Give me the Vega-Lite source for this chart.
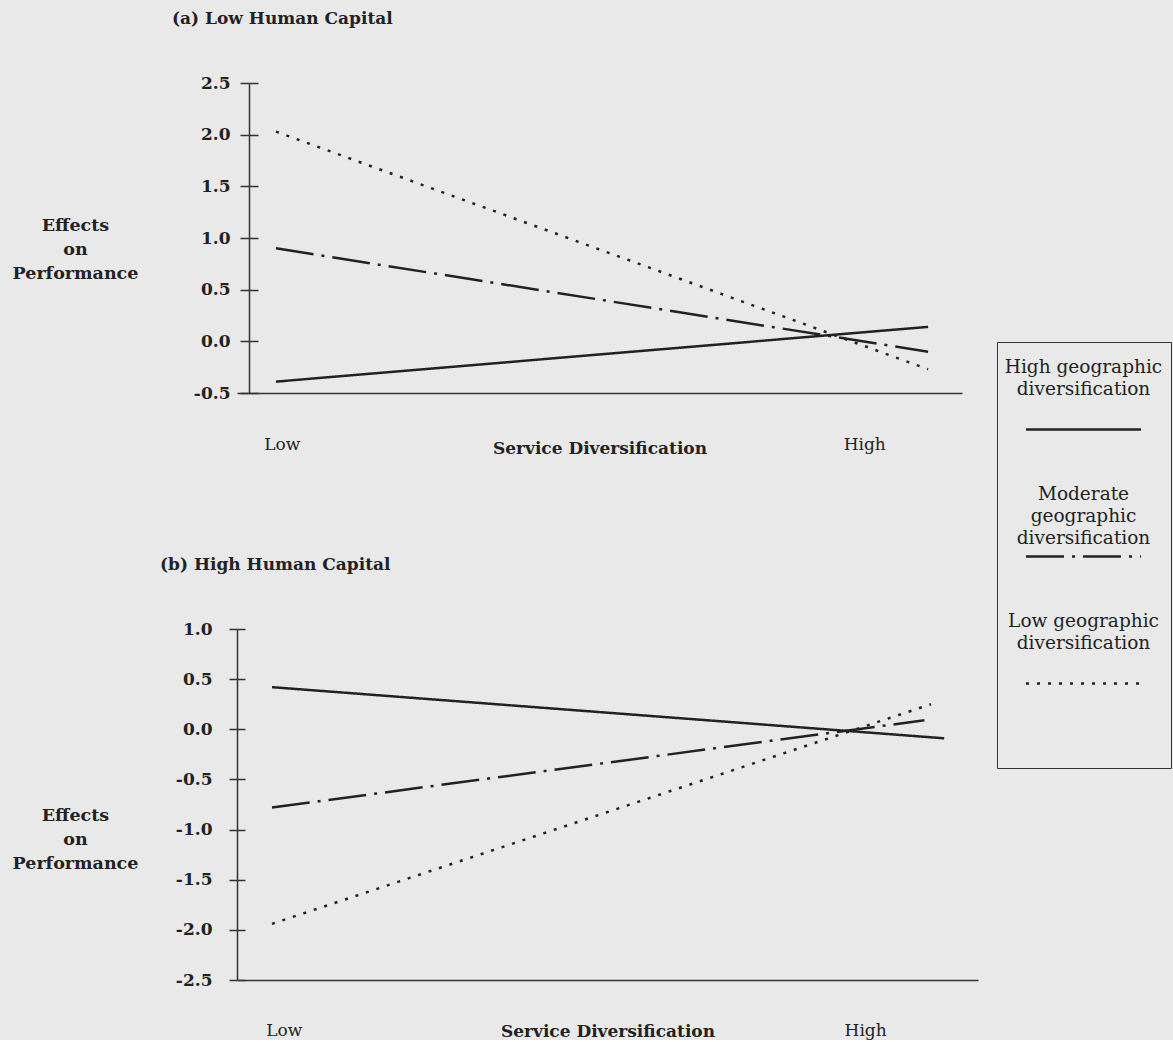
{
  "$schema": "https://vega.github.io/schema/vega-lite/v6.json",
  "background": "#e9e9e9",
  "padding": {"left": 12, "top": 10, "right": 2, "bottom": 1},
  "config": {"view": {"stroke": null}, "font": "DejaVu Serif", "concat": {"spacing": 100}, "style": {"guide-label": {"lineHeight": 22}}},
  "data": {"values": [
    {"panel": "a", "series": "High geographic diversification", "level": 0, "effect": -0.39},
    {"panel": "a", "series": "High geographic diversification", "level": 1, "effect": 0.14},
    {"panel": "a", "series": "Moderate geographic diversification", "level": 0, "effect": 0.90},
    {"panel": "a", "series": "Moderate geographic diversification", "level": 1, "effect": -0.10},
    {"panel": "a", "series": "Low geographic diversification", "level": 0, "effect": 2.03},
    {"panel": "a", "series": "Low geographic diversification", "level": 1, "effect": -0.27},
    {"panel": "b", "series": "High geographic diversification", "level": 0, "effect": 0.42},
    {"panel": "b", "series": "High geographic diversification", "level": 1.02, "effect": -0.09},
    {"panel": "b", "series": "Moderate geographic diversification", "level": 0, "effect": -0.78},
    {"panel": "b", "series": "Moderate geographic diversification", "level": 0.99, "effect": 0.09},
    {"panel": "b", "series": "Low geographic diversification", "level": 0, "effect": -1.94},
    {"panel": "b", "series": "Low geographic diversification", "level": 1.0, "effect": 0.25}
  ]},
  "vconcat": [
    {
      "width": 725,
      "height": 310,
      "title": {"text": "(a) Low Human Capital", "anchor": "start", "frame": "group", "dx": -65, "offset": 46, "font": "DejaVu Serif", "fontSize": 17, "fontWeight": "bold", "color": "#222"},
      "transform": [{"filter": "datum.panel == 'a'"}],
      "mark": {"type": "line", "strokeWidth": 2.5, "color": "#222"},
      "encoding": {
        "x": {
          "field": "level", "type": "quantitative",
          "scale": {"domain": [-0.0598, 1.052], "nice": false, "zero": false},
          "axis": {"values": [0.009, 0.902], "labelExpr": "datum.value < 0.5 ? 'Low' : 'High'", "ticks": false, "tickSize": 0, "grid": false, "domainColor": "#333", "domainWidth": 1.5, "labelPadding": 43, "labelFontSize": 17, "labelFont": "DejaVu Serif", "labelFontWeight": "normal", "labelColor": "#222", "labelAngle": 0, "labelAlign": "center", "labelBaseline": "top", "labelFlush": false, "labelOverlap": false, "title": "Service Diversification", "titleFont": "DejaVu Serif", "titleFontSize": 17, "titleFontWeight": "bold", "titleY": 55, "titleBaseline": "middle", "titleColor": "#222"}
        },
        "y": {
          "field": "effect", "type": "quantitative",
          "scale": {"domain": [-0.5, 2.5], "nice": false, "zero": false},
          "axis": {"offset": -12, "values": [-0.5, 0, 0.5, 1, 1.5, 2, 2.5], "labelExpr": "replace(format(datum.value, '.1f'), '\u2212', '-')", "tickSize": 9, "tickWidth": 1.5, "tickColor": "#333", "domainColor": "#333", "domainWidth": 1.5, "grid": true, "gridDash": [0, 12, 9, 5000], "gridColor": "#333", "gridWidth": 1.5, "gridOpacity": 1, "labelPadding": 10, "labelFont": "DejaVu Serif", "labelFontSize": 17, "labelFontWeight": "bold", "labelColor": "#222", "labelFlush": false, "title": ["Effects", "on", "Performance"], "titleFont": "DejaVu Serif", "titleAngle": 0, "titleAlign": "center", "titleBaseline": "middle", "titleX": -174, "titleY": 142, "titleFontSize": 17.5, "titleFontWeight": "bold", "titleLineHeight": 24, "titleColor": "#222"}
        },
        "strokeDash": {
          "field": "series", "type": "nominal",
          "scale": {"domain": ["High geographic diversification", "Moderate geographic diversification", "Low geographic diversification"], "range": [[1, 0], [38, 8, 3, 8], [3, 8]]},
          "legend": {
            "orient": "none", "legendX": 760, "legendY": 259,
            "title": " ", "titleOrient": "bottom", "titlePadding": 55, "titleFontSize": 17,
            "strokeColor": "#333", "padding": 8,
            "symbolType": "M-3.833,4.2L3.833,4.2", "symbolSize": 900, "symbolStrokeWidth": 2.5, "symbolStrokeColor": "#222", "symbolOffset": 62,
            "labelFont": "DejaVu Serif", "labelFontSize": 18.5, "labelColor": "#222", "labelAlign": "center", "labelBaseline": "middle", "labelOffset": -16.5, "labelLimit": 400,
            "rowPadding": 42,
            "labelExpr": "datum.label == 'High geographic diversification' ? ['High geographic', 'diversification'] : datum.label == 'Moderate geographic diversification' ? ['Moderate', 'geographic', 'diversification'] : ['Low geographic', 'diversification']"
          }
        }
      }
    },
    {
      "width": 741,
      "height": 351,
      "title": {"text": "(b) High Human Capital", "anchor": "start", "frame": "group", "dx": -77, "offset": 46, "font": "DejaVu Serif", "fontSize": 17, "fontWeight": "bold", "color": "#222"},
      "transform": [{"filter": "datum.panel == 'b'"}],
      "mark": {"type": "line", "strokeWidth": 2.5, "color": "#222"},
      "encoding": {
        "x": {
          "field": "level", "type": "quantitative",
          "scale": {"domain": [-0.0531, 1.0713], "nice": false, "zero": false},
          "axis": {"values": [0.018, 0.9], "labelExpr": "datum.value < 0.5 ? 'Low' : 'High'", "ticks": false, "tickSize": 0, "grid": false, "domainColor": "#333", "domainWidth": 1.5, "labelPadding": 42, "labelFontSize": 17, "labelFont": "DejaVu Serif", "labelFontWeight": "normal", "labelColor": "#222", "labelAngle": 0, "labelAlign": "center", "labelBaseline": "top", "labelFlush": false, "labelOverlap": false, "title": "Service Diversification", "titleFont": "DejaVu Serif", "titleFontSize": 17, "titleFontWeight": "bold", "titleY": 51, "titleBaseline": "middle", "titleColor": "#222"}
        },
        "y": {
          "field": "effect", "type": "quantitative",
          "scale": {"domain": [-2.5, 1.0], "nice": false, "zero": false},
          "axis": {"values": [-2.5, -2, -1.5, -1, -0.5, 0, 0.5, 1], "labelExpr": "replace(format(datum.value, '.1f'), '\u2212', '-')", "tickSize": 8, "tickWidth": 1.5, "tickColor": "#333", "domainColor": "#333", "domainWidth": 1.5, "grid": true, "gridDash": [8, 5000], "gridColor": "#333", "gridWidth": 1.5, "gridOpacity": 1, "labelPadding": 17, "labelFont": "DejaVu Serif", "labelFontSize": 17, "labelFontWeight": "bold", "labelColor": "#222", "labelFlush": false, "title": ["Effects", "on", "Performance"], "titleFont": "DejaVu Serif", "titleAngle": 0, "titleAlign": "center", "titleBaseline": "middle", "titleX": -162, "titleY": 186, "titleFontSize": 17.5, "titleFontWeight": "bold", "titleLineHeight": 24, "titleColor": "#222"}
        },
        "strokeDash": {
          "field": "series", "type": "nominal"
        }
      }
    }
  ]
}
